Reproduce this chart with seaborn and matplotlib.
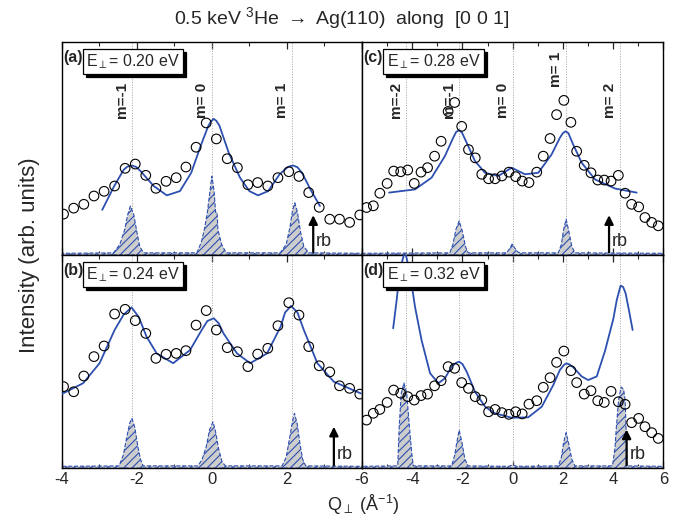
import numpy as np
import matplotlib
matplotlib.use("Agg")
import matplotlib.pyplot as plt
from matplotlib.transforms import ScaledTranslation, blended_transform_factory
import seaborn as sns

# data (intensity in arb. units, 0..1 = panel height)
q_left = [-3.95, -3.68, -3.41, -3.14, -2.87, -2.59, -2.31, -2.04, -1.76, -1.49,
          -1.22, -0.95, -0.69, -0.42, -0.15, 0.12, 0.41, 0.68, 0.96, 1.22,
          1.49, 1.76, 2.05, 2.32, 2.58, 2.86, 3.14, 3.40, 3.67, 3.94]
q_right = [-5.82, -5.55, -5.29, -5.00, -4.74, -4.46, -4.18, -3.92, -3.65, -3.39,
           -3.11, -2.85, -2.57, -2.31, -2.03, -1.76, -1.49, -1.23, -0.96, -0.70,
           -0.43, -0.15, 0.12, 0.38, 0.65, 0.96, 1.22, 1.49, 1.75, 2.04,
           2.32, 2.55, 2.85, 3.12, 3.39, 3.65, 3.92, 4.21, 4.48, 4.74,
           5.02, 5.27, 5.54, 5.80]

int_a = [0.192, 0.220, 0.238, 0.277, 0.299, 0.324, 0.407, 0.427, 0.374, 0.313,
         0.346, 0.363, 0.413, 0.506, 0.620, 0.545, 0.452, 0.410, 0.330, 0.340,
         0.324, 0.363, 0.391, 0.369, 0.293, 0.224, 0.168, 0.168, 0.153, 0.188]
int_b = [0.382, 0.358, 0.432, 0.523, 0.573, 0.723, 0.745, 0.692, 0.632, 0.515,
         0.534, 0.538, 0.551, 0.671, 0.739, 0.648, 0.565, 0.546, 0.476, 0.535,
         0.562, 0.668, 0.776, 0.718, 0.570, 0.480, 0.451, 0.386, 0.374, 0.347]
int_c = [0.223, 0.231, 0.290, 0.336, 0.394, 0.391, 0.399, 0.336, 0.389, 0.410,
         0.464, 0.534, 0.674, 0.716, 0.604, 0.495, 0.456, 0.379, 0.358, 0.358,
         0.371, 0.389, 0.368, 0.347, 0.340, 0.389, 0.464, 0.547, 0.659, 0.726,
         0.623, 0.487, 0.421, 0.386, 0.352, 0.352, 0.347, 0.374, 0.290, 0.238,
         0.226, 0.176, 0.153, 0.137]
int_d = [0.225, 0.257, 0.275, 0.308, 0.366, 0.351, 0.335, 0.319, 0.340, 0.347,
         0.386, 0.410, 0.476, 0.468, 0.401, 0.374, 0.335, 0.319, 0.264, 0.275,
         0.260, 0.252, 0.264, 0.254, 0.300, 0.316, 0.379, 0.424, 0.496, 0.549,
         0.457, 0.401, 0.347, 0.363, 0.316, 0.308, 0.360, 0.311, 0.299, 0.213,
         0.233, 0.194, 0.166, 0.139]

# fitted curves
fit_a_q = [-2.92, -2.6, -2.35, -2.25, -2.14, -2.02, -1.9, -1.55, -1.2, -0.85, -0.55,
           -0.3, -0.1, -0.02, 0.05, 0.12, 0.2, 0.45, 0.75, 1.0, 1.23, 1.5, 1.8, 2.0,
           2.08, 2.17, 2.28, 2.4, 2.65, 2.88]
fit_a_i = [0.212, 0.324, 0.40, 0.415, 0.42, 0.414, 0.394, 0.324, 0.28, 0.30, 0.386,
           0.511, 0.604, 0.628, 0.639, 0.630, 0.608, 0.48, 0.363, 0.30, 0.28, 0.30,
           0.378, 0.41, 0.417, 0.42, 0.412, 0.386, 0.30, 0.23]
fit_b_q = [-4.0, -3.43, -2.99, -2.59, -2.35, -2.14, -1.95, -1.74, -1.47, -1.03, -0.58,
           -0.27, -0.12, 0.05, 0.18, 0.31, 0.67, 1.02, 1.47, 1.83, 1.95, 2.11, 2.28,
           2.45, 2.81, 3.25, 3.97]
fit_b_i = [0.347, 0.398, 0.492, 0.648, 0.72, 0.754, 0.71, 0.617, 0.538, 0.492, 0.554,
           0.648, 0.69, 0.703, 0.68, 0.632, 0.538, 0.492, 0.538, 0.663, 0.73, 0.761,
           0.73, 0.648, 0.492, 0.405, 0.35]
fit_c_q = [-4.92, -3.89, -3.23, -2.70, -2.37, -2.25, -2.13, -2.02, -1.83, -1.50, -1.10,
           -0.57, -0.04, 0.49, 1.02, 1.55, 1.88, 2.00, 2.11, 2.22, 2.41, 2.75, 3.28,
           4.08, 4.94]
fit_c_i = [0.293, 0.308, 0.363, 0.464, 0.550, 0.578, 0.586, 0.575, 0.527, 0.441, 0.386,
           0.371, 0.410, 0.379, 0.386, 0.472, 0.550, 0.572, 0.581, 0.572, 0.519, 0.433,
           0.355, 0.312, 0.293]
fit_d_q = [-4.76, -4.62, -4.49, -4.29, -4.09, -3.89, -3.63, -3.29, -2.96, -2.70, -2.43,
           -2.25, -2.13, -2.0, -1.83, -1.50, -1.10, -0.71, -0.04, 0.62, 1.16, 1.62, 1.88,
           2.05, 2.15, 2.27, 2.41, 2.75, 3.01, 3.35, 3.68, 4.01, 4.15, 4.30, 4.40, 4.50,
           4.63, 4.78]
fit_d_i = [0.656, 0.789, 0.93, 1.02, 0.914, 0.757, 0.601, 0.445, 0.398, 0.421, 0.476,
           0.494, 0.499, 0.488, 0.452, 0.358, 0.288, 0.257, 0.236, 0.238, 0.288, 0.390,
           0.460, 0.485, 0.491, 0.486, 0.473, 0.430, 0.413, 0.430, 0.55, 0.70, 0.79,
           0.856, 0.85, 0.82, 0.742, 0.648]

# hatched diffraction peaks
rod_a_q = [-4.0, -2.62, -2.45, -2.32, -2.24, -2.17, -2.08, -2.0, -1.92, -1.82,
           -0.40, -0.28, -0.20, -0.12, -0.05, 0.0, 0.06, 0.10, 0.14, 0.16, 0.26, 0.38,
           1.82, 1.98, 2.08, 2.15, 2.21, 2.28, 2.36, 2.45, 2.58, 4.0]
rod_a_i = [0.008, 0.01, 0.05, 0.12, 0.19, 0.23, 0.19, 0.11, 0.04, 0.01,
           0.01, 0.06, 0.12, 0.20, 0.30, 0.37, 0.30, 0.20, 0.20, 0.12, 0.05, 0.01,
           0.01, 0.05, 0.13, 0.21, 0.245, 0.20, 0.11, 0.04, 0.01, 0.008]
rod_b_q = [-4.0, -2.47, -2.36, -2.26, -2.19, -2.13, -2.05, -1.97, -1.90, -1.83,
           -0.37, -0.26, -0.15, -0.06, 0.03, 0.10, 0.18, 0.27, 0.36,
           1.87, 1.98, 2.08, 2.15, 2.20, 2.27, 2.35, 2.42, 2.50, 4.0]
rod_b_i = [0.008, 0.01, 0.06, 0.15, 0.21, 0.233, 0.19, 0.10, 0.04, 0.01,
           0.01, 0.04, 0.10, 0.18, 0.217, 0.17, 0.09, 0.03, 0.01,
           0.01, 0.05, 0.15, 0.22, 0.257, 0.21, 0.11, 0.04, 0.01, 0.008]
rod_c_q = [-6.0, -2.50, -2.38, -2.26, -2.13, -2.00, -1.88, -1.77,
           -0.24, -0.12, -0.02, 0.10, 0.20, 0.29,
           1.82, 1.94, 2.03, 2.13, 2.24, 2.36, 2.48, 6.0]
rod_c_i = [0.008, 0.01, 0.05, 0.12, 0.160, 0.11, 0.04, 0.01,
           0.01, 0.03, 0.051, 0.03, 0.015, 0.01,
           0.01, 0.05, 0.12, 0.168, 0.11, 0.04, 0.01, 0.008]
rod_d_q = [-6.0, -4.58, -4.52, -4.44, -4.33, -4.22, -4.11, -4.02, -3.96,
           -2.43, -2.31, -2.21, -2.13, -2.02, -1.90, -1.77,
           -0.15, 0.0, 0.15,
           1.82, 1.94, 2.03, 2.13, 2.24, 2.36, 2.48,
           3.98, 4.08, 4.13, 4.22, 4.32, 4.42, 4.48, 4.53, 4.56, 6.0]
rod_d_i = [0.008, 0.01, 0.19, 0.35, 0.40, 0.35, 0.19, 0.07, 0.01,
           0.01, 0.06, 0.13, 0.178, 0.12, 0.04, 0.01,
           0.008, 0.015, 0.008,
           0.01, 0.05, 0.12, 0.166, 0.11, 0.04, 0.01,
           0.01, 0.10, 0.19, 0.32, 0.38, 0.37, 0.32, 0.15, 0.01, 0.008]

m_left = [-2.14, 0.0, 2.14]
m_right = [-4.26, -2.13, 0.0, 2.13, 4.26]
m_labels_left = ["m=-1", "m= 0", "m= 1"]
m_labels_right = ["m=-2", "m=-1", "m= 0", "m= 1", "m= 2"]
m_label_y_c = [0.643, 0.643, 0.643, 0.791, 0.643]
energies = ["0.20", "0.24", "0.28", "0.32"]
rb_q = [2.70, 3.25, 3.84, 4.54]
rb_top = [0.20, 0.207, 0.20, 0.194]

sns.set_theme(style="white")
plt.rcParams["font.family"] = ["Liberation Sans", "DejaVu Sans"]
plt.rcParams["mathtext.fontset"] = "custom"
plt.rcParams["mathtext.rm"] = "Liberation Sans"
plt.rcParams["mathtext.it"] = "Liberation Sans:italic"
plt.rcParams["mathtext.bf"] = "Liberation Sans:bold"
plt.rcParams["hatch.linewidth"] = 0.8
plt.rcParams["axes.unicode_minus"] = False

BLUE = "#2d4fb0"

fig = plt.figure(figsize=(6.8, 5.22), dpi=100)
L, M, R = 0.0907, 0.5324, 0.9754
B, C, T = 0.1034, 0.5115, 0.9195
ax_a = fig.add_axes([L, C, M - L, T - C])
ax_b = fig.add_axes([L, B, M - L, C - B])
ax_c = fig.add_axes([M, C, R - M, T - C])
ax_d = fig.add_axes([M, B, R - M, C - B])

panels = [
    (ax_a, "a", q_left, int_a, fit_a_q, fit_a_i, rod_a_q, rod_a_i, m_left, True, (-4, 4)),
    (ax_b, "b", q_left, int_b, fit_b_q, fit_b_i, rod_b_q, rod_b_i, m_left, False, (-4, 4)),
    (ax_c, "c", q_right, int_c, fit_c_q, fit_c_i, rod_c_q, rod_c_i, m_right, True, (-6, 6)),
    (ax_d, "d", q_right, int_d, fit_d_q, fit_d_i, rod_d_q, rod_d_i, m_right, False, (-6, 6)),
]

for i, (ax, tag, q, I, fq, fi, rq, ri, mpos, show_m, xl) in enumerate(panels):
    ax.set_xlim(*xl)
    ax.set_ylim(0, 1)
    for xm in mpos:
        ax.axvline(xm, color="#a0a0a0", ls=":", lw=0.7, zorder=1)
    ax.fill_between(rq, 0, ri, facecolor="#cdcdcd", edgecolor=BLUE, hatch="////",
                    linewidth=0.8, linestyle="--", zorder=2)
    sns.lineplot(x=fq, y=fi, ax=ax, color=BLUE, lw=1.3, sort=False, estimator=None, zorder=3)
    sns.scatterplot(x=q, y=I, ax=ax, marker="o", s=48, facecolor="none",
                    edgecolor="black", linewidth=0.8, zorder=4)

    # rainbow arrow
    ax.annotate("", xy=(rb_q[i], rb_top[i]), xytext=(rb_q[i], 0.0),
                arrowprops=dict(arrowstyle="-|>", color="black", lw=1.6, mutation_scale=13),
                zorder=5)
    ax.text(rb_q[i] + 0.08 * (xl[1] - xl[0]) / 8, 0.065, "rb", fontsize=13,
            ha="left", va="center", zorder=5)

    if show_m:
        tr = blended_transform_factory(ax.transData, ax.transAxes) + \
            ScaledTranslation(-3 / 100, 0, fig.dpi_scale_trans)
        labs = m_labels_left if tag == "a" else m_labels_right
        ys = [0.643] * 3 if tag == "a" else m_label_y_c
        for xm, lab, yy in zip(mpos, labs, ys):
            ax.text(xm, yy, lab, rotation=90, ha="right", va="bottom", fontsize=11,
                    fontweight="bold", transform=tr, zorder=5)

    # panel tag and energy box with drop shadow
    ax.text(0.004, 0.925, f"({tag})", transform=ax.transAxes, fontsize=11.5, fontweight="bold",
            ha="left", va="center", zorder=6)
    for dx, dy, fc in [(3, -3, "black"), (0, 0, "white")]:
        tr = ax.transAxes + ScaledTranslation(dx / 100, dy / 100, fig.dpi_scale_trans)
        ax.text(0.082, 0.908, r"E$_{\perp}$= " + energies[i] + " eV", transform=tr,
                fontsize=11.5, ha="left", va="center", zorder=7 if fc == "white" else 6,
                bbox=dict(boxstyle="square,pad=0.22", fc=fc, ec="black", lw=0.9))

    ax.xaxis.set_major_locator(plt.MultipleLocator(2))
    ax.xaxis.set_minor_locator(plt.MultipleLocator(1))
    ax.set_yticks([])
    ax.tick_params(axis="x", which="both", direction="in", top=True, bottom=True)
    ax.tick_params(axis="x", which="major", length=5, width=0.9, labelsize=12, pad=3)
    ax.tick_params(axis="x", which="minor", length=3, width=0.8)
    ax.set_xlabel("")
    ax.set_ylabel("")
    for sp in ax.spines.values():
        sp.set_linewidth(1.0)
        sp.set_color("black")
    if tag in ("a", "c"):
        ax.tick_params(axis="x", labelbottom=False)

ax_b.set_xticks([-4, -2, 0, 2])

fig.text(0.502, 0.9655, r"0.5 keV $^{3}$He $\rightarrow$ Ag(110)  along  [0 0 1]",
         ha="center", va="center", fontsize=14)
fig.text(0.044, 0.511, "Intensity (arb. units)", rotation=90, ha="center", va="center",
         fontsize=16)
fig.text(0.534, 0.033, r"Q$_{\perp}$ (Å$^{-1}$)", ha="center", va="center", fontsize=13)

fig.savefig("out.png", dpi=100)
